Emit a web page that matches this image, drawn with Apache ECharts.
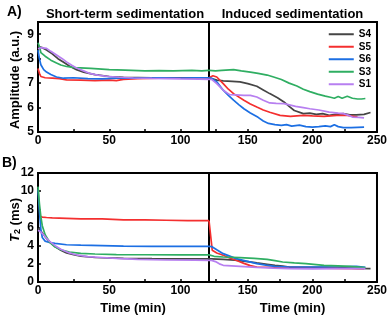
<!DOCTYPE html>
<html>
<head>
<meta charset="utf-8">
<script src="https://cdn.jsdelivr.net/npm/echarts@6/dist/echarts.min.js"></script>
<style>html,body{margin:0;padding:0;background:#fff}#c{width:390px;height:318px}</style>
</head>
<body>
<div id="c"></div>
<script>
// Series names (legend order) and colours
const seriesNames = ['S4', 'S5', 'S6', 'S3', 'S1'];
const seriesColors = ['#454545', '#f42f2f', '#1c6fe3', '#2fae62', '#b77ff0'];

// Panel A: Amplitude (a.u.) vs time (min), [t, value]
const ampS4 = [[0,8.5],[3,8.45],[6,8.35],[10,8.2],[14,8.0],[18,7.85],[22,7.7],[27,7.55],[32,7.45],[40,7.35],[50,7.27],[60,7.24],[80,7.22],[100,7.22],[120,7.22],
  [121,7.19],[126,7.12],[131,7.09],[138,7.07],[144,7.05],[150,6.98],[157,6.87],[162,6.72],[167,6.57],[173,6.4],[178,6.23],[182,6.05],[186,5.88],[193,5.75],[198,5.77],[203,5.72],[208,5.75],[213,5.68],[218,5.72],[224,5.75],[229,5.7],[234,5.7],[240,5.72],[245,5.8]];
const ampS5 = [[0,7.6],[1,7.4],[2,7.27],[5,7.22],[10,7.2],[15,7.18],[20,7.13],[30,7.12],[40,7.1],[50,7.12],[55,7.1],[60,7.15],[70,7.18],[85,7.2],[100,7.2],[120,7.22],
  [123,7.3],[126,7.25],[131,6.98],[135,6.75],[139,6.57],[147,6.3],[152,6.15],[157,6.02],[162,5.9],[167,5.81],[175,5.68],[183,5.64],[193,5.68],[200,5.66],[209,5.64],[219,5.68],[227,5.68],[235,5.61]];
const ampS6 = [[0,8.35],[1,8.0],[2,7.75],[4,7.55],[6,7.45],[9,7.35],[13,7.25],[18,7.2],[25,7.22],[35,7.18],[45,7.17],[55,7.2],[70,7.2],[85,7.22],[100,7.2],[110,7.22],[120,7.22],
  [122,7.2],[126,7.05],[131,6.71],[135,6.5],[139,6.3],[143,6.12],[147,5.95],[152,5.78],[158,5.6],[162,5.45],[166,5.35],[171,5.3],[176,5.27],[180,5.3],[184,5.24],[190,5.28],[195,5.22],[200,5.2],[205,5.22],[210,5.25],[214,5.22],[217,5.3],[220,5.22],[224,5.18],[230,5.18],[235,5.19],[240,5.2]];
const ampS3 = [[0,8.65],[1,8.5],[2,8.25],[5,8.1],[9,7.94],[13,7.82],[16,7.74],[20,7.68],[26,7.63],[37,7.6],[50,7.55],[61,7.53],[75,7.5],[85,7.51],[95,7.5],[108,7.52],[115,7.5],[120,7.52],
  [125,7.5],[130,7.52],[139,7.55],[145,7.5],[152,7.45],[158,7.4],[165,7.33],[170,7.25],[176,7.15],[182,7.0],[188,6.88],[193,6.75],[198,6.65],[204,6.55],[210,6.47],[214,6.42],[217,6.38],[220,6.45],[223,6.38],[227,6.46],[231,6.38],[235,6.35],[238,6.35],[241,6.37]];
const ampS1 = [[0,8.4],[2,8.45],[6,8.42],[9,8.3],[13,8.15],[17,8.0],[20,7.87],[24,7.72],[27,7.62],[32,7.5],[36,7.4],[42,7.33],[48,7.28],[57,7.24],[67,7.21],[80,7.19],[90,7.18],[100,7.17],[113,7.16],[120,7.15],
  [122,7.15],[126,6.98],[131,6.71],[136,6.53],[141,6.52],[147,6.5],[152,6.5],[157,6.43],[162,6.3],[167,6.19],[172,6.17],[178,6.16],[183,6.1],[187,6.05],[193,6.0],[198,5.95],[205,5.9],[213,5.81],[220,5.77],[224,5.75],[228,5.68],[231,5.61],[236,5.6],[240,5.58]];

// Panel B: T2 (ms) vs time (min), [t, value]
const t2S4 = [[0,5.9],[2,5.6],[4,5.2],[6,4.8],[9,4.3],[12,3.9],[16,3.5],[20,3.2],[25,3.0],[30,2.85],[40,2.7],[50,2.65],[60,2.6],[80,2.57],[100,2.55],[120,2.55],
  [122,2.55],[131,2.5],[140,2.4],[150,2.25],[157,2.1],[165,1.95],[171,1.84],[177,1.75],[182,1.65],[195,1.62],[210,1.6],[225,1.55],[235,1.5],[245,1.47]];
const t2S5 = [[1,7.25],[3,7.15],[6,7.1],[10,7.05],[20,7.0],[30,6.95],[45,6.95],[60,6.85],[75,6.85],[90,6.8],[105,6.75],[120,6.75],
  [121,6.75],[122.5,3.5],[126,3.2],[131,2.94],[136,2.65],[141,2.39],[147,2.05],[152,1.8],[157,1.65],[170,1.62],[182,1.6],[200,1.55],[220,1.5],[240,1.47]];
const t2S6 = [[0,10.2],[1,7.8],[2,5.8],[3,4.9],[5,4.5],[8,4.35],[12,4.25],[20,4.1],[30,4.05],[45,4.0],[60,3.95],[80,3.93],[100,3.92],[120,3.92],
  [122,3.9],[126,3.55],[131,3.12],[136,2.85],[141,2.57],[149,2.3],[157,2.02],[164,1.85],[171,1.73],[182,1.65],[195,1.65],[209,1.65],[222,1.68],[234,1.73],[241,1.6]];
const t2S3 = [[0,10.5],[1,8.6],[2,7.2],[3,6.2],[5,5.2],[8,4.4],[12,3.85],[16,3.55],[22,3.3],[30,3.15],[40,3.08],[55,3.02],[75,3.0],[100,2.98],[120,2.98],
  [121,2.95],[124,2.83],[131,2.75],[144,2.68],[155,2.6],[165,2.5],[171,2.35],[177,2.2],[186,2.1],[195,2.02],[209,1.84],[220,1.78],[229,1.73],[241,1.58]];
const t2S1 = [[0,5.7],[2,5.5],[4,5.2],[6,4.8],[8,4.5],[12,4.0],[16,3.6],[22,3.2],[28,2.95],[35,2.8],[45,2.7],[55,2.6],[70,2.5],[90,2.42],[110,2.4],[120,2.39],
  [122,2.38],[125,2.25],[128,2.0],[131,1.84],[144,1.73],[157,1.6],[170,1.52],[182,1.47],[200,1.45],[220,1.47],[241,1.47]];

// Axis ticks / labels
const splitTime = 120;
const leftXLabels = [0, 50, 100];
const leftXTicks = [0, 25, 50, 75, 100];
const rightXLabels = [150, 200, 250];
const rightXTicks = [125, 150, 175, 200, 225, 250];

const ampData = [ampS4, ampS5, ampS6, ampS3, ampS1];
const t2Data = [t2S4, t2S5, t2S6, t2S3, t2S1];

const FONT = 'Liberation Sans, Arial, sans-serif';
const lab = { color: '#000', fontSize: 12, fontWeight: 'bold', fontFamily: FONT };

const gridBase = { show: true, borderColor: '#000', borderWidth: 2, backgroundColor: 'transparent' };
const grids = [
  Object.assign({ left: 38, top: 22, width: 171, height: 110 }, gridBase),
  Object.assign({ left: 209, top: 22, width: 168, height: 110 }, gridBase),
  Object.assign({ left: 38, top: 173, width: 171, height: 109 }, gridBase),
  Object.assign({ left: 209, top: 173, width: 168, height: 109 }, gridBase)
];

function xLeft(gi) {
  return { type: 'value', gridIndex: gi, min: 0, max: splitTime,
    axisLine: { show: false }, splitLine: { show: false },
    axisTick: { show: true, inside: true, length: 3, customValues: leftXTicks, lineStyle: { color: '#000', width: 1.5 } },
    axisLabel: Object.assign({ margin: 3, customValues: leftXLabels }, lab) };
}
function xRight(gi) {
  return { type: 'value', gridIndex: gi, min: splitTime, max: 250,
    axisLine: { show: false }, splitLine: { show: false },
    axisTick: { show: true, inside: true, length: 3, customValues: rightXTicks, lineStyle: { color: '#000', width: 1.5 } },
    axisLabel: Object.assign({ margin: 3, customValues: rightXLabels }, lab) };
}
function yMain(gi, min, max, interval) {
  return { type: 'value', gridIndex: gi, min: min, max: max, interval: interval,
    axisLine: { show: false }, splitLine: { show: false },
    axisTick: { show: true, inside: true, length: 3, lineStyle: { color: '#000', width: 1.5 } },
    axisLabel: Object.assign({ margin: 4, formatter: function (v) { return (Math.abs(v - Math.round(v)) < 1e-9 && (v - min) % interval === 0) ? String(v) : ''; } }, lab) };
}
function yHidden(gi, min, max) {
  return { type: 'value', gridIndex: gi, min: min, max: max,
    axisLine: { show: false }, splitLine: { show: false }, axisTick: { show: false }, axisLabel: { show: false } };
}

const series = [];
function addSeries(dataList, xl, xr) {
  dataList.forEach(function (d, i) {
    const base = { type: 'line', name: seriesNames[i], showSymbol: false, symbol: 'none',
      color: seriesColors[i], lineStyle: { color: seriesColors[i], width: 1.7 }, clip: true, animation: false, z: 2 + i };
    series.push(Object.assign({}, base, { xAxisIndex: xl, yAxisIndex: xl, data: d.filter(p => p[0] <= splitTime) }));
    series.push(Object.assign({}, base, { xAxisIndex: xr, yAxisIndex: xr, data: d.filter(p => p[0] >= splitTime) }));
  });
}
addSeries(ampData, 0, 1);
addSeries(t2Data, 2, 3);

const txt = (x, y, text, extra) => ({ type: 'text', x: x, y: y, z: 100,
  style: Object.assign({ text: text, fill: '#000', font: 'bold 13px ' + FONT, align: 'center', verticalAlign: 'middle' }, extra || {}) });

const option = {
  animation: false,
  backgroundColor: '#fff',
  grid: grids,
  xAxis: [xLeft(0), xRight(1), xLeft(2), xRight(3)],
  yAxis: [yMain(0, 5, 9.5, 1), yHidden(1, 5, 9.5), yMain(2, 0, 12, 2), yHidden(3, 0, 12)],
  legend: {
    orient: 'vertical', right: 14, top: 23, itemGap: 0, itemWidth: 25, itemHeight: 2,
    icon: 'rect', data: seriesNames,
    textStyle: { color: '#000', fontSize: 10, fontWeight: 'bold', fontFamily: FONT, lineHeight: 12.5 }
  },
  series: series,
  graphic: [
    txt(7, 12, 'A)', { align: 'left', font: 'bold 14px ' + FONT }),
    txt(2, 163, 'B)', { align: 'left', font: 'bold 14px ' + FONT }),
    txt(125, 14, 'Short-term sedimentation'),
    txt(292.5, 14, 'Induced sedimentation'),
    Object.assign(txt(15, 80, 'Amplitude (a.u.)'), { rotation: Math.PI / 2 }),
    { type: 'text', x: 15, y: 220, rotation: Math.PI / 2, z: 100,
      style: { text: '{i|T}{s|2}{n| (ms)}', align: 'center', verticalAlign: 'middle', fill: '#000',
        rich: {
          i: { font: 'italic bold 13px ' + FONT, fill: '#000' },
          s: { font: 'bold 9px ' + FONT, fill: '#000', verticalAlign: 'bottom', padding: [6, 0, 0, 0] },
          n: { font: 'bold 13px ' + FONT, fill: '#000' }
        } } },
    txt(133, 308, 'Time (min)'),
    txt(292.5, 308, 'Time (min)')
  ]
};

const chart = echarts.init(document.getElementById('c'), null, { renderer: 'canvas' });
chart.setOption(option);
</script>
</body>
</html>
